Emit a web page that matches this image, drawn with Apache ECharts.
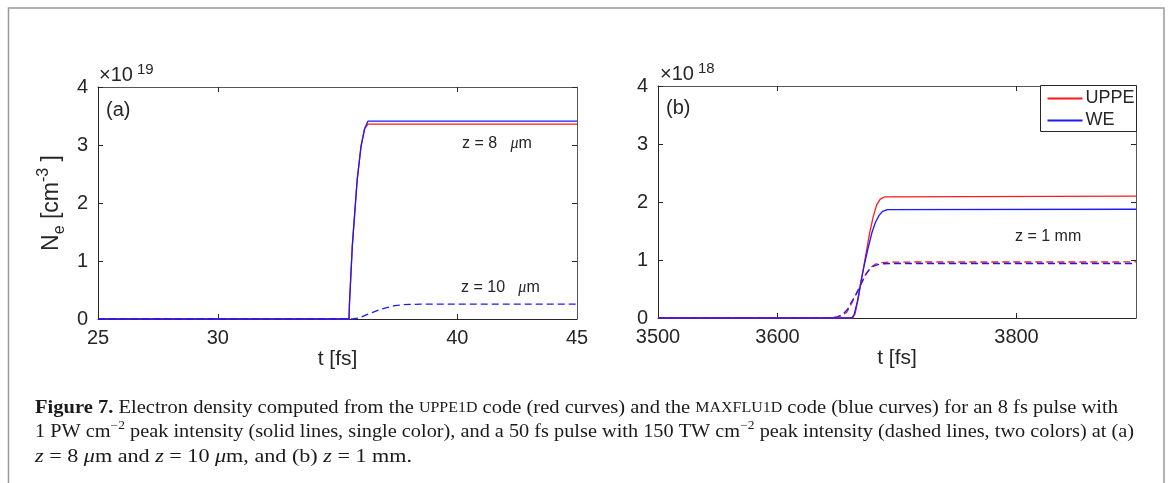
<!DOCTYPE html>
<html><head><meta charset="utf-8">
<script src="https://cdn.jsdelivr.net/npm/echarts@6/dist/echarts.min.js"></script>
<style>html,body{margin:0;padding:0;background:#fff}#c{width:1168px;height:483px}</style>
</head><body><div id="c"></div>
<script>
// ---------- Data (values in units of 1e19 for panel a, 1e18 for panel b) ----------
// Panel (a): 8 fs pulse, z = 8 um (solid) and 50 fs pulse, z = 10 um (dashed)
const tA_solid        = [25, 35.48, 35.50, 35.57, 35.62, 35.68, 35.82, 35.87, 35.98, 36.03, 36.13, 36.18, 36.27, 45];
const neA_uppe_solid  = [0, 0, 0.27, 0.30, 1.27, 1.30, 2.39, 2.41, 2.97, 2.99, 3.28, 3.30, 3.36, 3.36];
const neA_we_solid    = [0, 0, 0.27, 0.30, 1.27, 1.30, 2.39, 2.41, 2.97, 2.99, 3.28, 3.30, 3.41, 3.41];
const tA_dash         = [25, 35.65, 35.9, 36.2, 36.5, 36.8, 37.1, 37.4, 37.7, 38.0, 38.5, 45];
const neA_we_dash     = [0, 0, 0.02, 0.07, 0.12, 0.165, 0.20, 0.23, 0.245, 0.252, 0.255, 0.255];

// Panel (b): z = 1 mm
const tB_uppe_solid   = [3500, 3663, 3665, 3668, 3671, 3674, 3677, 3680, 3683, 3686, 3690, 3900];
const neB_uppe_solid  = [0, 0, 0.08, 0.38, 0.75, 1.10, 1.45, 1.74, 1.95, 2.05, 2.09, 2.10];
const tB_we_solid     = [3500, 3662, 3664, 3667, 3670, 3673, 3676, 3679, 3682, 3685, 3688, 3692, 3900];
const neB_we_solid    = [0, 0, 0.05, 0.30, 0.65, 0.95, 1.22, 1.47, 1.65, 1.77, 1.84, 1.87, 1.875];
const tB_uppe_dash    = [3500, 3645, 3652, 3658, 3662, 3666, 3670, 3674, 3678, 3682, 3687, 3695, 3900];
const neB_uppe_dash   = [0, 0, 0.02, 0.10, 0.25, 0.42, 0.60, 0.76, 0.87, 0.93, 0.955, 0.965, 0.966];
const tB_we_dash      = [3500, 3645, 3650, 3655, 3659, 3662, 3665, 3668, 3671, 3674, 3677, 3680, 3684, 3688, 3695, 3900];
const neB_we_dash     = [0, 0, 0.02, 0.07, 0.16, 0.28, 0.38, 0.50, 0.63, 0.75, 0.84, 0.89, 0.92, 0.935, 0.94, 0.94];

// Axis tick labels
const xLabelsA = [25, 30, 40, 45];
const xTicksA  = [30, 40];
const xLabelsB = [3500, 3600, 3800];
const xTicksB  = [3600, 3800];
const yTicks   = [0, 1, 2, 3, 4];

const legendNames = ['UPPE', 'WE'];

const captionLines = [
  '{b|Figure 7.} Electron density computed from the {sc|UPPE1D} code (red curves) and the {sc|MAXFLU1D} code (blue curves) for an 8 fs pulse with',
  '1 PW cm{sup|\u22122} peak intensity (solid lines, single color), and a 50 fs pulse with 150 TW cm{sup|\u22122} peak intensity (dashed lines, two colors) at (a)',
  '{i|z} = 8 {i|\u03bc}m and {i|z} = 10 {i|\u03bc}m, and (b) {i|z} = 1 mm.'
];

// ---------- Styling ----------
const SANS = '"Liberation Sans", Arial, Helvetica, sans-serif';
const SERIF = '"Liberation Serif", "Times New Roman", serif';
const INK = '#262626';
const RED = '#ff1a1a';
const BLUE = '#1a1aff';
const TICKFS = 20;

function pairs(xs, ys) { return xs.map((x, i) => [x, ys[i]]); }
const plain = v => String(v);

function xAxisPair(gi, min, max, labels, ticks, name) {
  return [
    { gridIndex: gi, type: 'value', min, max, position: 'bottom',
      axisLine: { show: true, onZero: false, lineStyle: { color: INK, width: 1 } },
      axisTick: { show: true, inside: true, length: 5, customValues: ticks, lineStyle: { color: INK } },
      axisLabel: { show: true, customValues: labels, formatter: plain, fontSize: TICKFS, color: INK, fontFamily: SANS, margin: 9 },
      splitLine: { show: false },
      name, nameLocation: 'middle', nameGap: 20,
      nameTextStyle: { fontSize: 21, color: INK, fontFamily: SANS } },
    { gridIndex: gi, type: 'value', min, max, position: 'top',
      axisLine: { show: true, onZero: false, lineStyle: { color: '#555', width: 1 } },
      axisTick: { show: true, inside: true, length: 5, customValues: ticks, lineStyle: { color: INK } },
      axisLabel: { show: false }, splitLine: { show: false } }
  ];
}
function yAxisPair(gi, withName) {
  const main = { gridIndex: gi, type: 'value', min: 0, max: 4, interval: 1, position: 'left',
    axisLine: { show: true, onZero: false, lineStyle: { color: INK, width: 1 } },
    axisTick: { show: true, inside: true, length: 5, customValues: yTicks, lineStyle: { color: INK } },
    axisLabel: { show: true, customValues: yTicks, formatter: plain, fontSize: TICKFS, color: INK, fontFamily: SANS, margin: 10 },
    splitLine: { show: false } };
  if (withName) {
    Object.assign(main, {
      name: '{n|N}{sub|e}{n| [cm}{sup|-3}{n| ]}', nameLocation: 'middle', nameRotate: 90, nameGap: 30,
      nameTextStyle: { fontSize: 23, color: INK, fontFamily: SANS, lineHeight: 32,
        rich: {
          n:   { fontSize: 23, lineHeight: 32, color: INK, fontFamily: SANS },
          sub: { fontSize: 16, lineHeight: 16, verticalAlign: 'bottom', color: INK, fontFamily: SANS },
          sup: { fontSize: 16, lineHeight: 16, verticalAlign: 'top', color: INK, fontFamily: SANS }
        } }
    });
  }
  return [main,
    { gridIndex: gi, type: 'value', min: 0, max: 4, interval: 1, position: 'right',
      axisLine: { show: true, onZero: false, lineStyle: { color: '#555', width: 1 } },
      axisTick: { show: true, inside: true, length: 5, customValues: yTicks, lineStyle: { color: INK } },
      axisLabel: { show: false }, splitLine: { show: false } }];
}
function lineSeries(name, xi, yi, data, color, dashed) {
  return { name, type: 'line', xAxisIndex: xi, yAxisIndex: yi, data,
    symbol: 'none', showSymbol: false, silent: true, animation: false,
    lineStyle: { color, width: 1.3, type: dashed ? [7, 4] : 'solid' },
    itemStyle: { color } };
}

// caption measurement for horizontal fitting
const capFonts = {
  base: { fontSize: 18, fontFamily: SERIF },
  b:   { fontSize: 18, fontFamily: SERIF, fontWeight: 'bold' },
  sc:  { fontSize: 14, fontFamily: SERIF },
  sup: { fontSize: 12, fontFamily: SERIF },
  i:   { fontSize: 18, fontFamily: SERIF, fontStyle: 'italic' }
};
const mctx = document.createElement('canvas').getContext('2d');
function fontStr(f) { return (f.fontStyle || 'normal') + ' ' + (f.fontWeight || 'normal') + ' ' + f.fontSize + 'px ' + f.fontFamily; }
function measureRich(s) {
  const re = /\{(\w+)\|([^}]*)\}|([^{]+)/g; let m, w = 0;
  while ((m = re.exec(s))) {
    const key = m[1] || 'base'; const txt = m[1] ? m[2] : m[3];
    mctx.font = fontStr(capFonts[key]); w += mctx.measureText(txt).width;
  }
  return w;
}
const capX = 35;
const capTargets = [1118, 1134, 412];
const capY = [408, 432, 457];
const capRich = {
  b:   Object.assign({ fill: '#1a1a1a', lineHeight: 24 }, capFonts.b),
  sc:  Object.assign({ fill: '#1a1a1a', lineHeight: 24 }, capFonts.sc),
  sup: Object.assign({ fill: '#1a1a1a', lineHeight: 12, verticalAlign: 'top' }, capFonts.sup),
  i:   Object.assign({ fill: '#1a1a1a', lineHeight: 24 }, capFonts.i)
};
const captionGraphics = captionLines.map((s, k) => ({
  type: 'text', x: capX, y: capY[k], scaleX: (capTargets[k] - capX) / measureRich(s), silent: true,
  style: { text: s, fontSize: 18, fontFamily: SERIF, fill: '#1a1a1a', lineHeight: 24,
    align: 'left', verticalAlign: 'middle', rich: capRich }
}));

function annot(x, y, text, size, rich) {
  return { type: 'text', x, y, silent: true,
    style: { text, fontSize: size, fontFamily: SANS, fill: INK, align: 'left', verticalAlign: 'middle', rich: rich || undefined } };
}
const expRich = {
  m: { fontSize: 20, lineHeight: 26, fontFamily: SANS, fill: INK },
  e: { fontSize: 15, lineHeight: 15, verticalAlign: 'top', fontFamily: SANS, fill: INK, padding: [0, 0, 0, 4] }
};
const muRich = {
  t: { fontSize: 16, fontFamily: SANS, fill: INK },
  g: { fontSize: 16, fontFamily: SERIF, fontStyle: 'italic', fill: INK }
};

const chart = echarts.init(document.getElementById('c'), null, { renderer: 'canvas' });
chart.setOption({
  backgroundColor: '#fff',
  animation: false,
  grid: [
    { left: 98, top: 87, width: 479, height: 232 },
    { left: 658, top: 86, width: 478, height: 232 }
  ],
  xAxis: [].concat(xAxisPair(0, 25, 45, xLabelsA, xTicksA, 't [fs]'),
                   xAxisPair(1, 3500, 3900, xLabelsB, xTicksB, 't [fs]')),
  yAxis: [].concat(yAxisPair(0, true), yAxisPair(1, false)),
  legend: {
    data: legendNames, orient: 'vertical', left: 1040.5, top: 85.5,
    padding: [4, 2, 2, 6], itemGap: 4, itemWidth: 35, itemHeight: 14,
    borderColor: INK, borderWidth: 1, borderRadius: 0, backgroundColor: '#fff',
    selectedMode: false,
    itemStyle: { opacity: 0 },
    textStyle: { fontSize: 18, lineHeight: 18, color: INK, fontFamily: SANS, padding: [0, 0, 0, -2] }
  },
  series: [
    lineSeries('UPPE', 0, 0, pairs(tA_solid, neA_uppe_solid), RED, false),
    lineSeries('WE',   0, 0, pairs(tA_solid, neA_we_solid), BLUE, false),
    lineSeries('WE',   0, 0, pairs(tA_dash, neA_we_dash), BLUE, true),
    lineSeries('UPPE', 2, 2, pairs(tB_uppe_solid, neB_uppe_solid), RED, false),
    lineSeries('WE',   2, 2, pairs(tB_we_solid, neB_we_solid), BLUE, false),
    lineSeries('UPPE', 2, 2, pairs(tB_uppe_dash, neB_uppe_dash), RED, true),
    lineSeries('WE',   2, 2, pairs(tB_we_dash, neB_we_dash), BLUE, true)
  ],
  graphic: [
    { type: 'rect', silent: true, shape: { x: 8.5, y: 8, width: 1155.5, height: 600 },
      style: { fill: 'none', stroke: '#9a9a9a', lineWidth: 1.5 } },
    annot(99, 75, '{m|\u00d710}{e|19}', 20, expRich),
    annot(660, 74, '{m|\u00d710}{e|18}', 20, expRich),
    annot(106, 110, '(a)', 20),
    annot(666, 108, '(b)', 20),
    annot(462, 144, '{t|z = 8   }{g|\u03bc}{t|m}', 16, muRich),
    annot(461, 288, '{t|z = 10   }{g|\u03bc}{t|m}', 16, muRich),
    annot(1015, 237, 'z = 1 mm', 16)
  ].concat(captionGraphics)
});
</script></body></html>
